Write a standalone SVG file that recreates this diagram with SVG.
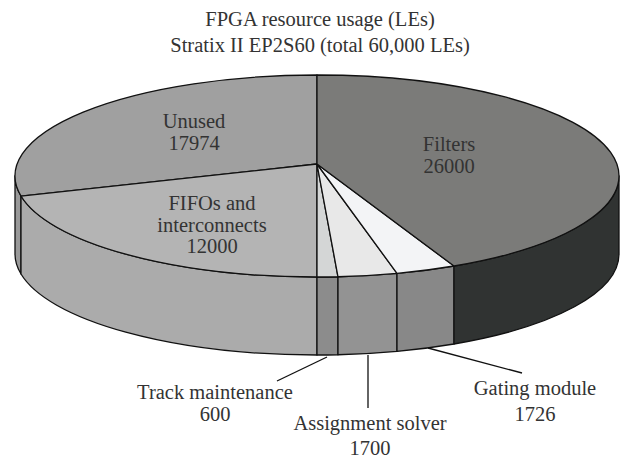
<svg xmlns="http://www.w3.org/2000/svg" width="620" height="460" viewBox="0 0 620 460">
<style>
  .t { font-family: "Liberation Serif", "Times New Roman", serif; font-size: 20.5px; fill: #333333; text-anchor: middle; }
  .s { stroke: #111111; stroke-width: 1.3; stroke-linejoin: round; }
  .lead { stroke: #111111; stroke-width: 1.3; fill: none; }
</style>
<rect width="620" height="460" fill="#ffffff"/>
<g id="title">
  <text class="t" x="320" y="26">FPGA resource usage (LEs)</text>
  <text class="t" x="320" y="52">Stratix II EP2S60 (total 60,000 LEs)</text>
</g>
<g id="sides">
  <path class="s" fill="#999999" d="M15 176 A302 101 0 0 0 21 196.03 L21 274.03 A302 101 0 0 1 15 254 Z"/>
  <path class="s" fill="#ababab" d="M21 196.03 A302 101 0 0 0 317 277 L317 355 A302 101 0 0 1 21 274.03 Z"/>
  <path class="s" fill="#8c8c8c" d="M317 277 A302 101 0 0 0 338 276.76 L338 354.76 A302 101 0 0 1 317 355 Z"/>
  <path class="s" fill="#939393" d="M338 276.76 A302 101 0 0 0 397 273.39 L397 351.39 A302 101 0 0 1 338 354.76 Z"/>
  <path class="s" fill="#888888" d="M397 273.39 A302 101 0 0 0 454 266.01 L454 344.01 A302 101 0 0 1 397 351.39 Z"/>
  <path class="s" fill="#303332" d="M454 266.01 A302 101 0 0 0 619 176 L619 254 A302 101 0 0 1 454 344.01 Z"/>
</g>
<g id="unused">
  <path class="s" fill="#a0a0a0" d="M317 164 L21 196.03 A302 101 0 0 1 317 75 Z"/>
  <text class="t" x="194" y="128">Unused</text>
  <text class="t" x="194" y="150">17974</text>
</g>
<g id="fifos">
  <path class="s" fill="#b4b4b4" d="M317 164 L317 277 A302 101 0 0 1 21 196.03 Z"/>
  <text class="t" x="212" y="210">FIFOs and</text>
  <text class="t" x="212" y="232">interconnects</text>
  <text class="t" x="212" y="253">12000</text>
</g>
<g id="track">
  <path class="s" fill="#d4d6d6" d="M317 164 L338 276.76 A302 101 0 0 1 317 277 Z"/>
  <text class="t" x="215" y="399">Track maintenance</text>
  <text class="t" x="215" y="421">600</text>
</g>
<g id="assign">
  <path class="s" fill="#e8e8e8" d="M317 164 L397 273.39 A302 101 0 0 1 338 276.76 Z"/>
  <text class="t" x="370" y="430">Assignment solver</text>
  <text class="t" x="370" y="455">1700</text>
</g>
<g id="gating">
  <path class="s" fill="#f3f4f6" d="M317 164 L454 266.01 A302 101 0 0 1 397 273.39 Z"/>
  <text class="t" x="535" y="395">Gating module</text>
  <text class="t" x="535" y="421">1726</text>
</g>
<g id="filters">
  <path class="s" fill="#7b7b79" d="M317 164 L317 75 A302 101 0 0 1 454 266.01 Z"/>
  <text class="t" x="449" y="151">Filters</text>
  <text class="t" x="449" y="173">26000</text>
</g>
<g id="connectors">
  <line class="lead" x1="327" y1="357" x2="277" y2="381"/>
  <line class="lead" x1="368" y1="355" x2="368" y2="408"/>
  <line class="lead" x1="428" y1="348" x2="522" y2="373"/>
</g>
</svg>
